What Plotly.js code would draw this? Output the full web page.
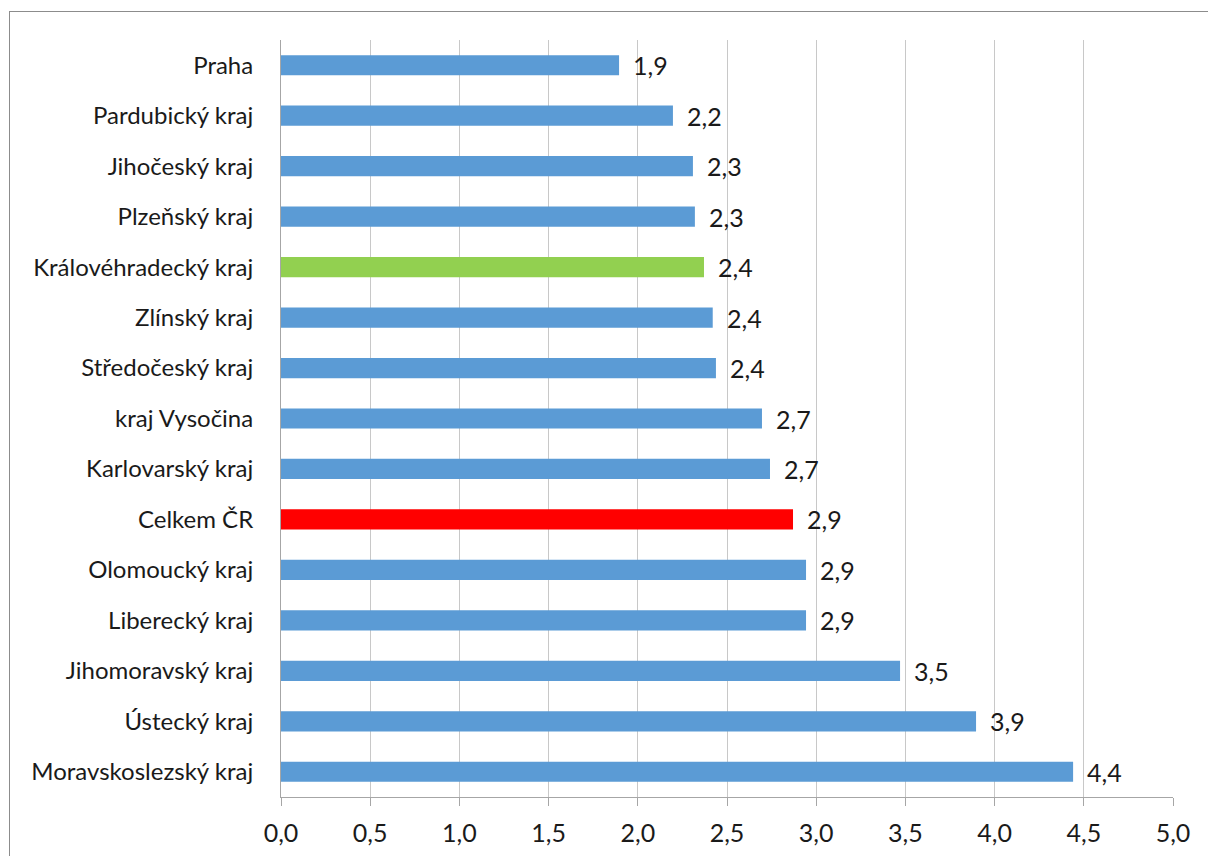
<!DOCTYPE html>
<html>
<head>
<meta charset="utf-8">
<script src="https://cdn.plot.ly/plotly-3.0.1.min.js"></script>
<style>
html,body{margin:0;padding:0;overflow:hidden;background:#fff;}
#chart{width:1208px;height:856px;}
#frame{position:absolute;left:9px;top:11px;width:1400px;height:1000px;border:1px solid #8c8c8c;pointer-events:none;}
</style>
</head>
<body>
<div id="chart"></div>
<div id="frame"></div>
<script>
const regions = ["Praha","Pardubický kraj","Jihočeský kraj","Plzeňský kraj","Královéhradecký kraj","Zlínský kraj","Středočeský kraj","kraj Vysočina","Karlovarský kraj","Celkem ČR","Olomoucký kraj","Liberecký kraj","Jihomoravský kraj","Ústecký kraj","Moravskoslezský kraj"];
const values = [1.895,2.197,2.309,2.32,2.371,2.42,2.438,2.696,2.741,2.87,2.943,2.943,3.47,3.896,4.44];
const valueLabels = ["1,9","2,2","2,3","2,3","2,4","2,4","2,4","2,7","2,7","2,9","2,9","2,9","3,5","3,9","4,4"];
const barColors = regions.map(r => r === "Celkem ČR" ? "#FF0000" : (r === "Královéhradecký kraj" ? "#92D050" : "#5B9BD5"));

const catFont = {family: "Lato, Open Sans, sans-serif", size: 24, color: "#1a1a1a"};
const numFont = {family: "Lato, Open Sans, sans-serif", size: 25, color: "#1a1a1a"};

const trace = {
  type: "bar",
  orientation: "h",
  x: values,
  y: regions,
  marker: {color: barColors},
  hoverinfo: "none"
};

const annotations = regions.map((r, i) => ({
  x: values[i], y: r, xref: "x", yref: "y",
  text: valueLabels[i], showarrow: false,
  xanchor: "left", yanchor: "middle", xshift: 12, yshift: 0,
  font: numFont
}));

const layout = {
  width: 1208, height: 856,
  margin: {l: 281, r: 35, t: 40, b: 59},
  paper_bgcolor: "#fff", plot_bgcolor: "#fff",
  bargap: 0.6,
  showlegend: false,
  separators: ",.",
  font: catFont,
  xaxis: {
    range: [0, 5], dtick: 0.5, tick0: 0, tickformat: ".1f",
    showgrid: true, gridcolor: "#c8c8c8", gridwidth: 1,
    zeroline: false,
    showline: true, linecolor: "#a6a6a6", linewidth: 1,
    ticks: "outside", ticklen: 8, tickcolor: "#a6a6a6",
    ticklabelstandoff: 6,
    tickfont: numFont, fixedrange: true
  },
  yaxis: {
    autorange: "reversed", type: "category",
    showgrid: false, zeroline: false,
    showline: true, linecolor: "#a6a6a6", linewidth: 1,
    ticks: "outside", ticklen: 22, tickcolor: "rgba(0,0,0,0)",
    tickfont: catFont, fixedrange: true
  },
  annotations: annotations
};

Plotly.newPlot("chart", [trace], layout, {staticPlot: true, displayModeBar: false});
</script>
</body>
</html>
